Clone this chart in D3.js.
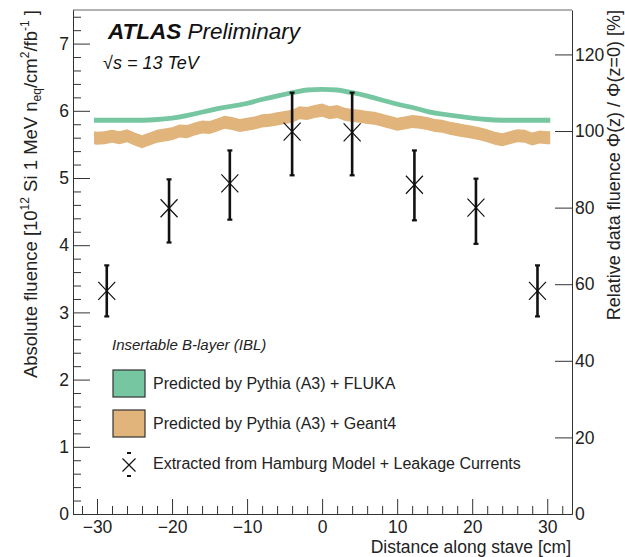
<!DOCTYPE html>
<html>
<head>
<meta charset="utf-8">
<script src="https://cdn.jsdelivr.net/npm/d3@7"></script>
<style>
  body { margin: 0; background: #fff; }
  svg { font-family: "Liberation Sans", Arial, Helvetica, sans-serif; }
</style>
</head>
<body>
<div id="container"></div>
<script>
const width = 625;
const height = 557;

// FLUKA band (centre values), z in cm
const flukaZ = [-30.4, -28, -26, -24, -22, -20, -18, -16, -14, -12, -10, -8, -6, -4, -2, 0,
  2, 4, 6, 8, 10, 12, 14, 16, 18, 20, 22, 24, 26, 28, 30.4];
const flukaVal = [5.86, 5.86, 5.86, 5.86, 5.87, 5.89, 5.93, 5.98, 6.03, 6.07, 6.11, 6.17, 6.22, 6.27, 6.31, 6.32,
  6.31, 6.27, 6.22, 6.16, 6.10, 6.05, 5.99, 5.95, 5.92, 5.89, 5.87, 5.86, 5.86, 5.86, 5.86];

// Geant4 band (centre values)
const geantZ = [-30.4, -30, -29, -28, -27, -26, -25, -24, -23, -22, -21, -20, -19, -18, -17, -16, -15, -14, -13, -12,
  -11, -10, -9, -8, -7, -6, -5, -4, -3, -2, -1, 0, 1, 2, 3, 4, 5, 6, 7, 8, 9, 10, 11, 12, 13, 14, 15, 16,
  17, 18, 19, 20, 21, 22, 23, 24, 25, 26, 27, 28, 29, 30, 30.4];
const geantVal = [5.60, 5.59, 5.60, 5.62, 5.60, 5.63, 5.58, 5.54, 5.58, 5.62, 5.64, 5.66, 5.70, 5.69, 5.73, 5.76, 5.75, 5.79, 5.83, 5.81,
  5.78, 5.80, 5.82, 5.85, 5.86, 5.88, 5.90, 5.92, 5.97, 5.96, 5.99, 6.01, 5.97, 5.99, 5.95, 5.93, 5.92, 5.90, 5.89, 5.86, 5.83, 5.80, 5.82, 5.84, 5.83, 5.81, 5.78, 5.77,
  5.74, 5.72, 5.70, 5.68, 5.66, 5.63, 5.59, 5.57, 5.60, 5.63, 5.62, 5.58, 5.61, 5.60, 5.60];

// data points (Hamburg model + leakage currents)
const dataZ = [-28.7, -20.4, -12.3, -4.0, 4.0, 12.3, 20.5, 28.7];
const dataVal = [3.32, 4.55, 4.92, 5.69, 5.68, 4.90, 4.56, 3.32];
const dataLo = [2.94, 4.04, 4.38, 5.04, 5.04, 4.37, 4.02, 2.94];
const dataHi = [3.70, 4.98, 5.41, 6.27, 6.27, 5.41, 4.99, 3.70];

const xTicks = [-30, -20, -10, 0, 10, 20, 30];
const yTicks = [0, 1, 2, 3, 4, 5, 6, 7];
const yRightTicks = [0, 20, 40, 60, 80, 100, 120];

const legendLabels = [
  "Predicted by Pythia (A3) + FLUKA",
  "Predicted by Pythia (A3) + Geant4",
  "Extracted from Hamburg Model + Leakage Currents"
];

const green = "#76c6a1";
const orange = "#e0b47b";
const axisColor = "#333";

const x = d3.scaleLinear().domain([-33.2, 33.3]).range([73, 572]);
const y = d3.scaleLinear().domain([0, 7.5]).range([514, 10]);
const yR = d3.scaleLinear().domain([0, 131.6]).range([514, 10]);

const svg = d3.select("#container").append("svg")
  .attr("width", width)
  .attr("height", height);

// bands
const flukaHalf = 0.036;
const geantHalf = 0.097;

svg.append("path")
  .datum(d3.zip(geantZ, geantVal))
  .attr("fill", orange)
  .attr("d", d3.area()
    .x(d => x(d[0]))
    .y0(d => y(d[1] - geantHalf))
    .y1(d => y(d[1] + geantHalf)));

svg.append("path")
  .datum(d3.zip(flukaZ, flukaVal))
  .attr("fill", green)
  .attr("d", d3.area()
    .curve(d3.curveMonotoneX)
    .x(d => x(d[0]))
    .y0(d => y(d[1] - flukaHalf))
    .y1(d => y(d[1] + flukaHalf)));

// data points
const pts = svg.append("g");
const points = d3.range(dataZ.length).map(i => ({z: dataZ[i], v: dataVal[i], lo: dataLo[i], hi: dataHi[i]}));

pts.selectAll(".err").data(points).join("line")
  .attr("x1", d => x(d.z)).attr("x2", d => x(d.z))
  .attr("y1", d => y(d.lo)).attr("y2", d => y(d.hi))
  .attr("stroke", "#111").attr("stroke-width", 2.6);

pts.selectAll(".capTop").data(points).join("line")
  .attr("x1", d => x(d.z) - 2.5).attr("x2", d => x(d.z) + 2.5)
  .attr("y1", d => y(d.hi)).attr("y2", d => y(d.hi))
  .attr("stroke", "#111").attr("stroke-width", 2.2);

pts.selectAll(".capBot").data(points).join("line")
  .attr("x1", d => x(d.z) - 2.5).attr("x2", d => x(d.z) + 2.5)
  .attr("y1", d => y(d.lo)).attr("y2", d => y(d.lo))
  .attr("stroke", "#111").attr("stroke-width", 2.2);

const cross = (cx, cy, w, h) =>
  `M${cx - w},${cy - h}L${cx + w},${cy + h}M${cx - w},${cy + h}L${cx + w},${cy - h}`;

pts.selectAll(".mark").data(points).join("path")
  .attr("d", d => cross(x(d.z), y(d.v), 8.5, 9))
  .attr("stroke", "#111").attr("stroke-width", 1.2).attr("fill", "none");

// frame
svg.append("line").attr("x1", 73).attr("x2", 572).attr("y1", 10).attr("y2", 10)
  .attr("stroke", "#666").attr("stroke-width", 1);

// axes
function styleAxis(g) {
  g.select(".domain").attr("stroke", axisColor);
  g.selectAll(".tick line").attr("stroke", axisColor);
  g.selectAll("text").attr("fill", "#222").attr("font-size", 17.5);
}

const xMinor = d3.range(-32, 33, 2).filter(v => v % 10 !== 0);
const yMinor = d3.range(0, 7.45, 0.2).map(v => +v.toFixed(1)).filter(v => Math.abs(v - Math.round(v)) > 0.01);

svg.append("g").attr("transform", "translate(0,514)")
  .call(d3.axisTop(x).tickValues(xMinor).tickSize(8).tickFormat("").tickSizeOuter(0))
  .call(styleAxis);
const gx = svg.append("g").attr("transform", "translate(0,514)")
  .call(d3.axisTop(x).tickValues(xTicks).tickSize(15).tickSizeOuter(0).tickFormat(d => d < 0 ? "\u2212" + (-d) : d))
  .call(styleAxis);
gx.selectAll("text").attr("y", 19).attr("dy", 0);

svg.append("g").attr("transform", "translate(73,0)")
  .call(d3.axisRight(y).tickValues(yMinor).tickSize(8).tickFormat("").tickSizeOuter(0))
  .call(styleAxis);
const gy = svg.append("g").attr("transform", "translate(73,0)")
  .call(d3.axisRight(y).tickValues(yTicks).tickSize(17).tickSizeOuter(0))
  .call(styleAxis);
gy.selectAll("text").attr("x", -4).attr("text-anchor", "end");

const gr = svg.append("g").attr("transform", "translate(572,0)")
  .call(d3.axisLeft(yR).tickValues(yRightTicks).tickSize(17).tickSizeOuter(0))
  .call(styleAxis);
gr.selectAll("text").attr("x", 3).attr("text-anchor", "start");

// axis titles
svg.append("text")
  .attr("x", 571).attr("y", 553)
  .attr("text-anchor", "end")
  .attr("font-size", 17.5).attr("fill", "#222")
  .text("Distance along stave [cm]");

const yl = svg.append("text")
  .attr("transform", "translate(37,10) rotate(-90)")
  .attr("text-anchor", "end")
  .attr("font-size", 18.5).attr("fill", "#222");
yl.append("tspan").text("Absolute fluence [10");
yl.append("tspan").attr("font-size", 12).attr("dy", -8).text("12");
yl.append("tspan").attr("dy", 8).text(" Si 1 MeV n");
yl.append("tspan").attr("font-size", 12).attr("dy", 4).text("eq");
yl.append("tspan").attr("dy", -4).text("/cm");
yl.append("tspan").attr("font-size", 12).attr("dy", -8).text("2");
yl.append("tspan").attr("dy", 8).text("/fb");
yl.append("tspan").attr("font-size", 12).attr("dy", -8).text("-1");
yl.append("tspan").attr("dy", 8).text(" ]");

svg.append("text")
  .attr("transform", "translate(620,10) rotate(-90)")
  .attr("text-anchor", "end")
  .attr("font-size", 18).attr("fill", "#222")
  .text("Relative data fluence \u03A6(z) / \u03A6(z=0) [%]");

// labels
const atlas = svg.append("text").attr("x", 108).attr("y", 39).attr("font-size", 22.5).attr("fill", "#111");
atlas.append("tspan").attr("font-weight", "bold").attr("font-style", "italic").text("ATLAS");
atlas.append("tspan").attr("font-style", "italic").text(" Preliminary");

const sq = svg.append("text").attr("x", 103).attr("y", 69).attr("font-size", 18).attr("fill", "#111")
  .attr("font-style", "italic");
sq.append("tspan").text("\u221A");
sq.append("tspan").text("s = 13 TeV");

// legend
svg.append("text").attr("x", 112).attr("y", 350)
  .attr("font-size", 15).attr("font-style", "italic").attr("fill", "#222")
  .text("Insertable B-layer (IBL)");

const legend = svg.append("g");
[green, orange].forEach((c, i) => {
  legend.append("rect")
    .attr("x", 113).attr("y", 370 + i * 40)
    .attr("width", 32).attr("height", 27)
    .attr("fill", c).attr("stroke", "#333").attr("stroke-width", 1.2);
});
legend.selectAll(".lt").data(legendLabels).join("text")
  .attr("x", 153).attr("y", (d, i) => 389 + i * 40)
  .attr("font-size", 16).attr("fill", "#222")
  .text(d => d);

legend.append("path").attr("d", cross(129, 465, 6.5, 6.5))
  .attr("stroke", "#111").attr("stroke-width", 1.2).attr("fill", "none");
[453, 476].forEach(yy => {
  legend.append("line").attr("x1", 127).attr("x2", 131).attr("y1", yy).attr("y2", yy)
    .attr("stroke", "#111").attr("stroke-width", 2);
});
</script>
</body>
</html>
